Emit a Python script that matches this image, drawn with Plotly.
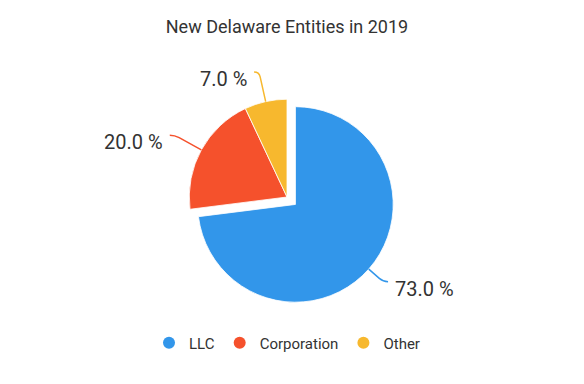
import math
import plotly.graph_objects as go

# ---- data ----
categories = ["LLC", "Corporation", "Other"]
shares = [73.0, 20.0, 7.0]
title_text = "New Delaware Entities in 2019"

# ---- style ----
colors = ["#3296EA", "#F5512C", "#F7B82E"]
pulls = [0.115, 0, 0]
FIG_W, FIG_H = 584, 384
L, R, T, B = 70, 96, 80, 86
PW, PH = FIG_W - L - R, FIG_H - T - B
TEXT_COLOR = "#333333"
FONT = "Roboto"

fig = go.Figure()
fig.add_trace(go.Pie(
    labels=categories, values=shares, sort=False, direction="clockwise",
    rotation=0, pull=pulls, textinfo="none", showlegend=False,
    marker=dict(colors=colors, line=dict(color="white", width=0.8)),
    hovertemplate="%{label}: %{value:.1f} %<extra></extra>",
))

# legend entries with circular symbols
for name, col in zip(categories, colors):
    fig.add_trace(go.Scatter(
        x=[None], y=[None], mode="markers", name=name,
        marker=dict(symbol="circle", size=12, color=col),
    ))

# ---- outside labels with leader lines, computed from the data ----
cx, cy = L + PW / 2, T + PH / 2
radius = min(PW, PH) / 2 / (1 + max(pulls))
total = sum(shares)


def to_paper(x, y):
    return (x - L) / PW, (FIG_H - B - y) / PH


shapes, annotations = [], []
cum = 0.0
for name, val, col, pl in zip(categories, shares, colors, pulls):
    mid = (cum + val / 2) / total * 2 * math.pi
    cum += val
    dx, dy = math.sin(mid), -math.cos(mid)
    scx, scy = cx + pl * radius * dx, cy + pl * radius * dy
    ex, ey = scx + radius * dx, scy + radius * dy
    px, py = cx + 1.31 * radius * dx, cy + 1.31 * radius * dy
    side = 1 if dx >= 0 else -1
    hx, hy = px + side * 5, py
    bx, by = px - 5 * dx, py - 5 * dy
    pts = [to_paper(*p) for p in [(ex, ey), (bx, by), (px, py), (hx, hy)]]
    path = "M {0},{1} L {2},{3} Q {4},{5} {6},{7}".format(
        pts[0][0], pts[0][1], pts[1][0], pts[1][1],
        pts[2][0], pts[2][1], pts[3][0], pts[3][1])
    shapes.append(dict(type="path", xref="paper", yref="paper", path=path,
                       line=dict(color=col, width=1.5)))
    tx, ty = to_paper(hx + side * 5, hy - 7)
    annotations.append(dict(
        xref="paper", yref="paper", x=tx, y=ty, showarrow=False,
        xanchor="left" if side > 0 else "right", yanchor="top",
        text=f"{val:.1f} %",
        font=dict(family=FONT, size=20, color=TEXT_COLOR),
    ))

fig.update_layout(
    width=FIG_W, height=FIG_H,
    margin=dict(l=L, r=R, t=T, b=B),
    paper_bgcolor="white", plot_bgcolor="white",
    title=dict(text=title_text, x=0.5, xref="paper", xanchor="center",
               y=1 - 19 / FIG_H, yref="container", yanchor="middle",
               font=dict(family=FONT, size=18, color=TEXT_COLOR)),
    legend=dict(orientation="h", x=0.5, xanchor="center",
                y=(FIG_H - B - 335) / PH, yanchor="middle",
                font=dict(family=FONT, size=15, color=TEXT_COLOR),
                itemwidth=30),
    xaxis=dict(visible=False), yaxis=dict(visible=False),
    shapes=shapes, annotations=annotations,
)

fig.write_html("out.html")
